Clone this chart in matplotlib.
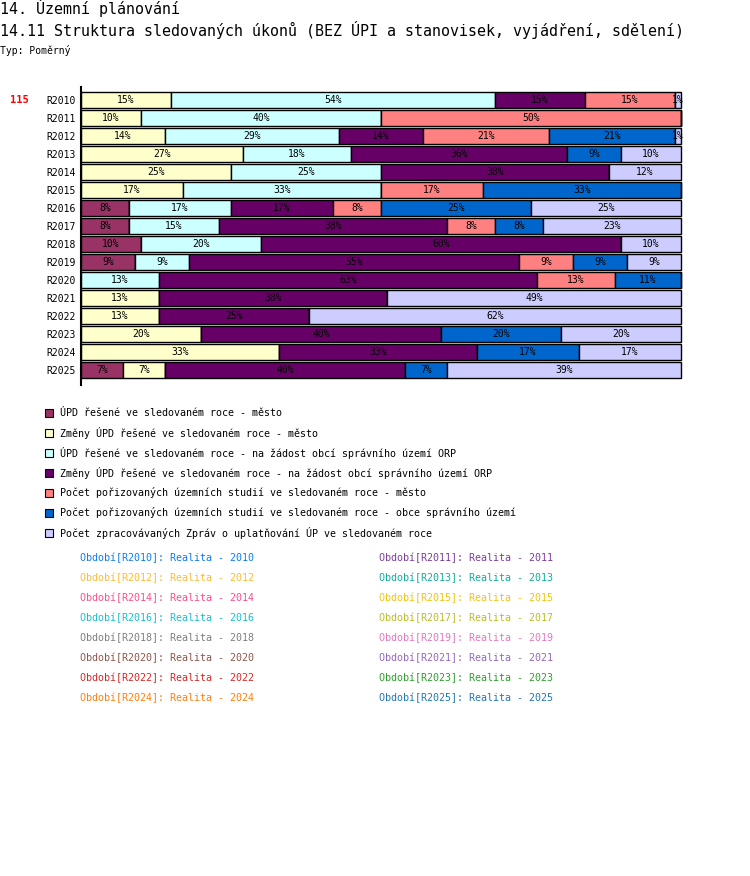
import matplotlib
matplotlib.use("Agg")
import matplotlib.pyplot as plt
from matplotlib.patches import Rectangle

plt.rcParams['font.family'] = ['DejaVu Sans Mono']

periods = ["R2010", "R2011", "R2012", "R2013", "R2014", "R2015", "R2016", "R2017",
           "R2018", "R2019", "R2020", "R2021", "R2022", "R2023", "R2024", "R2025"]

# hodnoty v %
upd_mesto      = [0, 0, 0, 0, 0, 0, 8, 8, 10, 9, 0, 0, 0, 0, 0, 7]
zmeny_mesto    = [15, 10, 14, 27, 25, 17, 0, 0, 0, 0, 0, 13, 13, 20, 33, 7]
upd_orp        = [54, 40, 29, 18, 25, 33, 17, 15, 20, 9, 13, 0, 0, 0, 0, 0]
zmeny_orp      = [15, 0, 14, 36, 38, 0, 17, 38, 60, 55, 63, 38, 25, 40, 33, 40]
studie_mesto   = [15, 50, 21, 0, 0, 17, 8, 8, 0, 9, 13, 0, 0, 0, 0, 0]
studie_obce    = [0, 0, 21, 9, 0, 33, 25, 8, 0, 9, 11, 0, 0, 20, 17, 7]
zpravy         = [1, 0, 1, 10, 12, 0, 25, 23, 10, 9, 0, 49, 62, 20, 17, 39]

series_names = [
    "ÚPD řešené ve sledovaném roce - město",
    "Změny ÚPD řešené ve sledovaném roce - město",
    "ÚPD řešené ve sledovaném roce - na žádost obcí správního území ORP",
    "Změny ÚPD řešené ve sledovaném roce - na žádost obcí správního území ORP",
    "Počet pořizovaných územních studií ve sledovaném roce - město",
    "Počet pořizovaných územních studií ve sledovaném roce - obce správního území",
    "Počet zpracovávaných Zpráv o uplatňování ÚP ve sledovaném roce",
]
series_values = [upd_mesto, zmeny_mesto, upd_orp, zmeny_orp, studie_mesto, studie_obce, zpravy]
series_colors = ["#993366", "#ffffcc", "#ccffff", "#660066", "#ff8080", "#0066cc", "#ccccff"]

period_labels = ["Období[%s]: Realita - %s" % (p, p[1:]) for p in periods]
period_colors = ["#0b7bf5", "#7d3c98", "#ffbb33", "#10ad9c", "#ff4d88", "#f1c40f",
                 "#17becf", "#bcbd22", "#7f7f7f", "#e377c2", "#8c564b", "#9467bd",
                 "#d62728", "#2ca02c", "#ff7f0e", "#1f77b4"]

W, H = 750, 876
fig = plt.figure(figsize=(W / 100, H / 100), dpi=100)

def fx(px):
    return px / W

def fy(py):
    return 1 - py / H

# nadpisy
fig.text(fx(0), fy(8), "14. Územní plánování", fontsize=10.8, va="center", ha="left")
fig.text(fx(0), fy(30), "14.11 Struktura sledovaných úkonů (BEZ ÚPI a stanovisek, vyjádření, sdělení)",
         fontsize=10.8, va="center", ha="left")
fig.text(fx(0), fy(50), "Typ: Poměrný", fontsize=7, va="center", ha="left")

# graf
top_px, bot_px = 87, 385
ax = fig.add_axes([fx(81), fy(bot_px), fx(681) - fx(81), (bot_px - top_px) / H])
ypos = list(range(len(periods)))
left = [0] * len(periods)
for vals, col in zip(series_values, series_colors):
    bars = ax.barh(ypos, vals, left=left, height=0.84, color=col,
                   edgecolor="black", linewidth=1.0, clip_on=False)
    for i, v in enumerate(vals):
        if v > 0:
            ax.text(left[i] + v / 2, i, "%d%%" % v, ha="center", va="center",
                    fontsize=7, color="black")
    left = [a + b for a, b in zip(left, vals)]

ax.set_xlim(0, 100)
ax.set_ylim(15 + (bot_px - 370) / 18, -(100 - top_px) / 18)
ax.set_yticks(ypos)
ax.set_yticklabels(periods, fontsize=7)
ax.tick_params(axis="y", length=0, pad=4)
ax.set_xticks([])
for s in ["top", "right", "bottom"]:
    ax.spines[s].set_visible(False)
ax.spines["left"].set_linewidth(1.5)

fig.text(fx(10), fy(100), "115", color="red", fontsize=7.5, fontweight="bold",
         va="center", ha="left")

# legenda
for k, (name, col) in enumerate(zip(series_names, series_colors)):
    yc = 413 + 20 * k
    fig.add_artist(Rectangle((fx(45), fy(yc + 4)), 8 / W, 8 / H, transform=fig.transFigure,
                             facecolor=col, edgecolor="black", linewidth=0.8))
    fig.text(fx(60), fy(yc), name, fontsize=7.2, va="center", ha="left")

# seznam období
for k, (lab, col) in enumerate(zip(period_labels, period_colors)):
    col_x = 80 if k % 2 == 0 else 379
    yc = 558 + 20 * (k // 2)
    fig.text(fx(col_x), fy(yc), lab, fontsize=7.2, color=col, va="center", ha="left")

fig.savefig("out.png", dpi=100)
